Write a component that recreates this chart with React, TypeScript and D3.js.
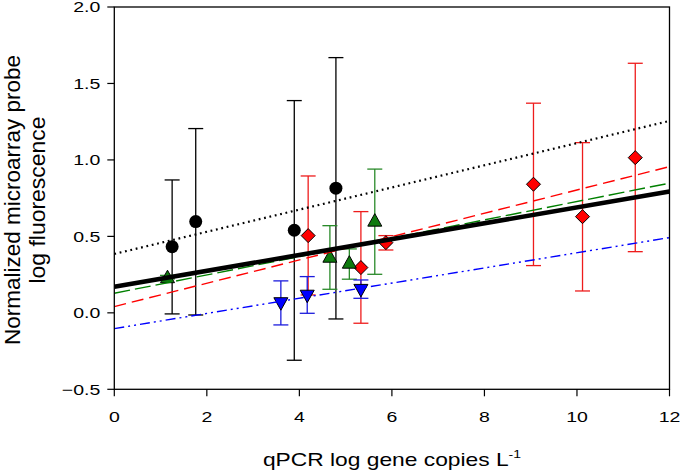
import React from "react";
import * as d3 from "d3";

// ---- data ----
const circleX = [1.25, 1.76, 3.89, 4.79];
const circleY = [0.433, 0.597, 0.54, 0.815];
const circleHi = [0.869, 1.205, 1.388, 1.669];
const circleLo = [-0.007, -0.014, -0.31, -0.04];

const diamondX = [4.19, 5.33, 5.87, 9.06, 10.12, 11.26];
const diamondY = [0.505, 0.296, 0.459, 0.841, 0.629, 1.015];
const diamondHi = [0.895, 0.662, 0.505, 1.371, 1.113, 1.632];
const diamondLo = [0.117, -0.068, 0.411, 0.309, 0.143, 0.4];

const triUpX = [1.15, 4.66, 5.08, 5.63];
const triUpY = [0.233, 0.367, 0.328, 0.603];
const triUpHi = [0.245, 0.57, 0.418, 0.94];
const triUpLo = [0.222, 0.154, 0.22, 0.252];

const triDownX = [3.6, 4.17, 5.33];
const triDownY = [0.063, 0.112, 0.15];
const triDownHi = [0.209, 0.237, 0.215];
const triDownLo = [-0.079, -0.003, 0.095];

const fitX = [0, 12];
const fitAll = [0.171, 0.793];
const fitCircle = [0.385, 1.255];
const fitDiamond = [0.041, 0.956];
const fitTriUp = [0.128, 0.848];
const fitTriDown = [-0.103, 0.492];

const xTicks = [0, 2, 4, 6, 8, 10, 12];
const yTicks = [-0.5, 0, 0.5, 1, 1.5, 2];

const W = 680;
const H = 473;
const FONT = "'Liberation Sans', Arial, sans-serif";

export default function App() {
  const x = d3.scaleLinear().domain([0, 12]).range([114.3, 669.5]);
  const y = d3.scaleLinear().domain([-0.5, 2]).range([389.3, 7]);
  const line = d3
    .line<[number, number]>()
    .x((d) => x(d[0]))
    .y((d) => y(d[1]));
  const fitPts = (v: number[]) => fitX.map((xx, i) => [xx, v[i]] as [number, number]);

  const errBars = (xs: number[], hi: number[], lo: number[], color: string, key: string) =>
    xs.map((xv, i) => (
      <g key={key + i} stroke={color} strokeWidth={1.3} fill="none">
        <line x1={x(xv)} x2={x(xv)} y1={y(hi[i])} y2={y(lo[i])} />
        <line x1={x(xv) - 7.5} x2={x(xv) + 7.5} y1={y(hi[i])} y2={y(hi[i])} />
        <line x1={x(xv) - 7.5} x2={x(xv) + 7.5} y1={y(lo[i])} y2={y(lo[i])} />
      </g>
    ));

  const diamondPath = "M0,-7L7,0L0,7L-7,0Z";
  const upPath = "M0,-7L7,5.5L-7,5.5Z";
  const downPath = "M0,7L7,-5.5L-7,-5.5Z";

  const tickFS = 19.5;
  const tickSY = 0.77;

  return (
    <svg
      width={W}
      height={H}
      style={{ position: "absolute", left: 0, top: 0, background: "#fff" }}
      fontFamily={FONT}
    >
      <rect x={0} y={0} width={W} height={H} fill="#fff" />

      {/* error bars */}
      {errBars(circleX, circleHi, circleLo, "#000", "ce")}
      {errBars(diamondX, diamondHi, diamondLo, "#ee1c1c", "de")}
      {errBars(triUpX, triUpHi, triUpLo, "#2a8a2a", "ue")}
      {errBars(triDownX, triDownHi, triDownLo, "#1c1cdd", "we")}

      {/* markers */}
      {circleX.map((xv, i) => (
        <circle key={"c" + i} cx={x(xv)} cy={y(circleY[i])} r={6.5} fill="#000" />
      ))}
      {diamondX.map((xv, i) => (
        <path
          key={"d" + i}
          d={diamondPath}
          transform={`translate(${x(xv)},${y(diamondY[i])})`}
          fill="#ff0000"
          stroke="#000"
          strokeWidth={1}
        />
      ))}
      {triUpX.map((xv, i) => (
        <path
          key={"u" + i}
          d={upPath}
          transform={`translate(${x(xv)},${y(triUpY[i])})`}
          fill="#0e7a0e"
          stroke="#000"
          strokeWidth={1}
        />
      ))}
      {triDownX.map((xv, i) => (
        <path
          key={"w" + i}
          d={downPath}
          transform={`translate(${x(xv)},${y(triDownY[i])})`}
          fill="#0000ff"
          stroke="#000"
          strokeWidth={1}
        />
      ))}

      {/* regression lines */}
      <path d={line(fitPts(fitCircle)) as string} stroke="#000" strokeWidth={2.2} strokeDasharray="1.8,3.7" fill="none" />
      <path d={line(fitPts(fitDiamond)) as string} stroke="#ff0000" strokeWidth={1.4} strokeDasharray="12,6" fill="none" />
      <path d={line(fitPts(fitTriUp)) as string} stroke="#008000" strokeWidth={1.4} strokeDasharray="16,5" fill="none" />
      <path d={line(fitPts(fitTriDown)) as string} stroke="#0000ff" strokeWidth={1.4} strokeDasharray="10,4,2,4,2,4" fill="none" />
      <path d={line(fitPts(fitAll)) as string} stroke="#000" strokeWidth={4.6} fill="none" />

      {/* frame */}
      <rect x={x(0)} y={y(2)} width={x(12) - x(0)} height={y(-0.5) - y(2)} fill="none" stroke="#000" strokeWidth={1.3} />

      {/* y ticks */}
      {yTicks.map((t) => (
        <g key={"yt" + t}>
          <line x1={x(0) - 7} x2={x(0)} y1={y(t)} y2={y(t)} stroke="#000" strokeWidth={1.2} />
          <text
            transform={`translate(${x(0) - 14},${y(t)}) scale(1,${tickSY})`}
            textAnchor="end"
            dy="0.36em"
            fontSize={tickFS}
            fill="#000"
          >
            {d3.format(".1f")(t)}
          </text>
        </g>
      ))}

      {/* x ticks */}
      {xTicks.map((t) => (
        <g key={"xt" + t}>
          <line x1={x(t)} x2={x(t)} y1={y(-0.5)} y2={y(-0.5) + 7} stroke="#000" strokeWidth={1.2} />
          <text
            transform={`translate(${x(t)},${416.7}) scale(1,${tickSY})`}
            textAnchor="middle"
            dy="0.36em"
            fontSize={tickFS}
            fill="#000"
          >
            {t}
          </text>
        </g>
      ))}

      {/* x title */}
      <text transform={`translate(392,466) scale(1,0.815)`} textAnchor="middle" fontSize={22.8} fill="#000">
        qPCR log gene copies L
        <tspan fontSize={14} dy={-10}>
          -1
        </tspan>
      </text>

      {/* y title */}
      <g transform="translate(0,200) rotate(-90)">
        <text
          x={0}
          y={19.5}
          textAnchor="middle"
          fontSize={21.5}
          textLength={290}
          lengthAdjust="spacingAndGlyphs"
          fill="#000"
        >
          Normalized microarray probe
        </text>
        <text
          x={0}
          y={44.5}
          textAnchor="middle"
          fontSize={21.5}
          textLength={167}
          lengthAdjust="spacingAndGlyphs"
          fill="#000"
        >
          log fluorescence
        </text>
      </g>
    </svg>
  );
}
